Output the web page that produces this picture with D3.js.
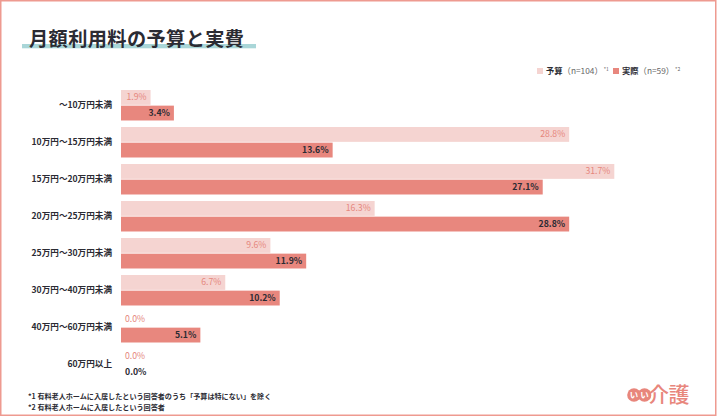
<!DOCTYPE html>
<html><head><meta charset="utf-8">
<script src="https://cdn.jsdelivr.net/npm/d3@7"></script>
<style>
html,body{margin:0;padding:0;background:#fff;}
text{font-family:"Noto Sans CJK JP","Noto Sans",sans-serif;}
</style></head>
<body><svg id="c" width="720" height="420"></svg>
<script>
const categories = ["〜10万円未満","10万円〜15万円未満","15万円〜20万円未満","20万円〜25万円未満","25万円〜30万円未満","30万円〜40万円未満","40万円〜60万円未満","60万円以上"];
const seriesKeys = ["budget","actual"];
const seriesNames = ["予算","実際"];
const seriesNotes = ["（n=104）","（n=59）"];
const seriesMarks = ["*1","*2"];
const budget = [1.9,28.8,31.7,16.3,9.6,6.7,0.0,0.0];
const actual = [3.4,13.6,27.1,28.8,11.9,10.2,5.1,0.0];
const footnotes = ["*1 有料老人ホームに入居したという回答者のうち「予算は特にない」を除く","*2 有料老人ホームに入居したという回答者"];
const title = "月額利用料の予算と実費";

const barColors = {budget:"#f5d4d1", actual:"#e8877e"};
const labelColors = {budget:"#e5877d", actual:"#2b2b33"};
const salmon = "#e8867c";

const svg = d3.select("#c");
// frame
svg.append("rect").attr("x",0.75).attr("y",0.75).attr("width",715).attr("height",414.5)
  .attr("fill","#fff").attr("stroke","#ee9a90").attr("stroke-width",1.5);

// title
svg.append("rect").attr("x",22).attr("y",44).attr("width",234).attr("height",4.3).attr("fill","#a9d6d8");
svg.append("text").attr("x",29).attr("y",46).attr("font-size",19.2).attr("font-weight",700)
  .attr("letter-spacing",0.4).attr("fill","#2b2b33").text(title);

const x = d3.scaleLinear().domain([0,31.7]).range([121,614.3]);
const y = d3.scaleBand().domain(categories).range([90,379.5]).paddingInner(0.176).paddingOuter(0);
const ys = d3.scaleBand().domain(seriesKeys).range([0,y.bandwidth()]).paddingInner(0.05);

const rows = categories.map((c,i)=>({cat:c, budget:budget[i], actual:actual[i]}));

const g = svg.append("g");
rows.forEach(r=>{
  seriesKeys.forEach(k=>{
    const v = r[k];
    const yy = y(r.cat)+ys(k);
    if (v>0) g.append("rect").attr("x",x(0)).attr("y",yy).attr("width",x(v)-x(0)).attr("height",ys.bandwidth()).attr("fill",barColors[k]);
    g.append("text")
      .attr("x", v>0 ? x(v)-4 : x(0)+4)
      .attr("y", yy+ys.bandwidth()/2)
      .attr("dy","0.35em")
      .attr("text-anchor", v>0 ? "end" : "start")
      .attr("font-size",8.7)
      .attr("font-weight", k==="actual"?700:400)
      .attr("fill",labelColors[k])
      .text(v.toFixed(1)+"%");
  });
});

// category axis labels
const yAxis = d3.axisLeft(y).tickSize(0).tickPadding(0);
const ax = svg.append("g").attr("transform","translate(112,0)").call(yAxis);
ax.select(".domain").remove();
ax.selectAll("text").attr("font-size",8.6).attr("font-weight",700).attr("fill","#2b2b33")
  .style("font-family",'"Noto Sans CJK JP",sans-serif');

// legend
const legX = [537,613];
seriesKeys.forEach((k,i)=>{
  const lg = svg.append("g").attr("transform",`translate(${legX[i]},71)`);
  lg.append("rect").attr("x",0).attr("y",-3).attr("width",6).attr("height",6).attr("fill",barColors[k]);
  const t = lg.append("text").attr("x",9).attr("y",0).attr("dy","0.35em").attr("font-size",8.3);
  t.append("tspan").attr("font-weight",700).attr("fill","#2b2b33").text(seriesNames[i]);
  t.append("tspan").attr("fill","#666").text(seriesNotes[i]);
  t.append("tspan").attr("fill","#666").attr("font-size",5).attr("dy","-0.5em").attr("dx",1).text(seriesMarks[i]);
});

// footnotes
footnotes.forEach((f,i)=>{
  svg.append("text").attr("x",28).attr("y",397+i*10.4).attr("dy","0.35em").attr("font-size",7.1)
    .attr("font-weight",700).attr("fill","#2b2b33").text(f);
});

// logo
const logo = svg.append("g");
[634,644.5].forEach(cx=>{
  logo.append("circle").attr("cx",cx).attr("cy",395).attr("r",6.8).attr("fill",salmon);
  logo.append("text").attr("x",cx).attr("y",395).attr("dy","0.36em").attr("text-anchor","middle")
    .attr("font-size",8.5).attr("font-weight",700).attr("fill","#fff").text("い");
});
logo.append("text").attr("x",648).attr("y",394).attr("dy","0.36em").attr("font-size",21)
  .attr("font-weight",500).attr("fill",salmon).attr("letter-spacing",-0.5).text("介護");
</script></body></html>
